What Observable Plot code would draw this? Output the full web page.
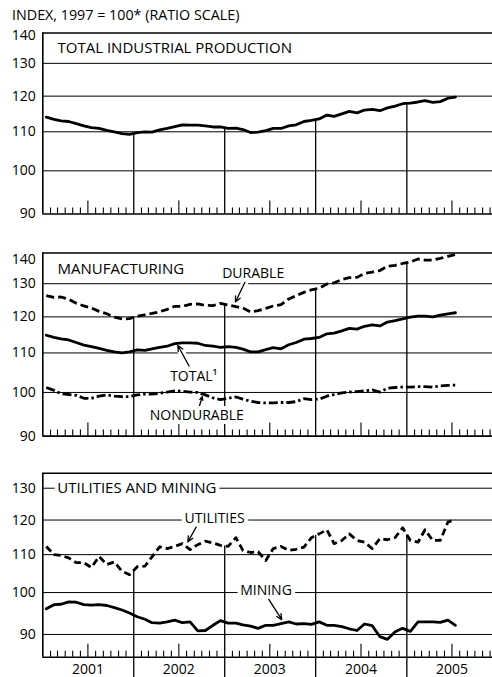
<!DOCTYPE html>
<html><head><meta charset="utf-8">
<script src="https://cdn.jsdelivr.net/npm/d3@7"></script>
<script src="https://cdn.jsdelivr.net/npm/@observablehq/plot@0.6"></script>
<style>
html,body{margin:0;padding:0;background:#fff;}
#wrap{position:relative;width:492px;height:677px;overflow:hidden;background:#fff;font-family:"Open Sans",sans-serif;}
#hdr{position:absolute;left:12px;top:7px;font-size:14.3px;line-height:16px;color:#000;white-space:nowrap;}
.panel{position:absolute;left:0;}
</style></head>
<body><div id="wrap"><div id="hdr">INDEX, 1997 = 100* (RATIO SCALE)</div></div>
<script>
// ---- data: monthly, Jan 2001 – Jul 2005 (index, 1997 = 100) ----
const totalIP = [114.0,113.4,113.0,112.8,112.2,111.6,111.1,110.9,110.4,110.0,109.5,109.3,
  109.8,110.0,109.9,110.5,110.9,111.4,111.9,111.8,111.8,111.6,111.3,111.3,
  110.9,111.0,110.6,109.8,109.9,110.3,110.9,110.9,111.6,111.9,112.8,113.1,
  113.5,114.6,114.2,114.9,115.6,115.2,116.0,116.2,115.8,116.6,117.1,117.8,
  118.0,118.3,118.7,118.2,118.4,119.4,119.7];
const mfgTotal = [114.8,114.2,113.8,113.5,112.8,112.1,111.7,111.2,110.7,110.3,110.0,110.3,
  110.8,110.7,111.1,111.5,111.8,112.5,112.7,112.7,112.6,112.0,111.8,111.5,
  111.7,111.5,111.0,110.3,110.3,110.9,111.4,111.1,112.2,112.8,113.7,113.9,
  114.2,115.2,115.4,116.0,116.7,116.5,117.3,117.7,117.4,118.5,118.9,119.4,
  119.9,120.2,120.2,120.0,120.5,120.9,121.2];
const durable = [126.3,125.8,125.9,125.2,124.0,123.2,122.6,121.6,120.9,119.9,119.4,119.5,
  120.2,120.6,121.0,121.5,122.2,123.1,123.1,123.7,123.8,123.4,123.3,124.0,
  123.5,123.0,122.6,121.4,121.8,122.5,123.2,123.6,125.3,126.3,127.3,128.1,
  128.6,129.9,130.3,131.3,131.9,132.0,133.3,133.7,134.2,135.6,135.9,136.5,
  137.0,138.0,137.6,137.6,138.2,138.9,139.5];
const nondurable = [101.2,100.5,99.7,99.5,99.3,98.6,98.6,99.1,99.4,99.1,99.0,99.0,
  99.4,99.6,99.6,99.8,100.1,100.4,100.3,100.1,100.0,99.4,98.7,98.3,
  98.6,98.9,98.4,97.9,97.6,97.5,97.5,97.6,97.6,97.8,98.5,98.3,
  98.4,99.1,99.5,99.9,100.1,100.2,100.4,100.6,100.1,101.0,101.2,101.3,
  101.3,101.4,101.4,101.3,101.6,101.7,101.8];
const utilities = [112.3,110.0,109.8,109.1,107.8,107.8,106.5,109.5,107.3,108.0,105.5,104.6,
  106.7,106.9,109.4,112.2,111.7,112.3,113.1,111.4,112.8,113.8,113.3,112.6,
  112.3,114.8,111.2,110.6,110.8,108.4,111.7,112.3,111.2,111.5,112.1,114.8,
  115.9,117.1,113.1,114.0,115.9,114.0,113.5,111.7,114.5,114.2,114.8,117.7,
  114.0,113.5,117.1,114.0,114.0,119.4,120.1];
const mining = [96.0,97.0,97.1,97.7,97.6,97.0,96.9,97.0,96.8,96.3,95.7,95.0,
  94.1,93.5,92.7,92.6,92.9,93.3,92.7,92.9,90.8,90.9,92.1,93.2,
  92.6,92.6,92.2,91.9,91.4,92.1,92.1,92.5,92.9,92.4,92.5,92.3,
  92.9,92.1,92.1,91.8,91.3,90.9,92.4,92.0,89.5,88.9,90.6,91.4,
  90.7,92.9,92.9,92.9,92.8,93.3,92.1];
const yTicksA = [90, 100, 110, 120, 130, 140];
const yTicksB = [90, 100, 110, 120, 130];
const yearLabels = ["2001", "2002", "2003", "2004", "2005"];

// ---- helpers ----
const X0 = new Date(Date.UTC(2001, 0, 1)), X1 = new Date(Date.UTC(2006, 0, 1));
const dates = d3.utcMonth.range(X0, new Date(Date.UTC(2005, 7, 1))).map(d => d3.utcDay.offset(d, 14));
const rows = vals => vals.map((v, i) => ({date: dates[i], value: v}));
const allMonths = d3.utcMonth.range(new Date(Date.UTC(2001, 1, 1)), X1);
const minorTicks = allMonths.filter(d => d.getUTCMonth() !== 0 && d.getUTCMonth() !== 6);
const julyTicks = allMonths.filter(d => d.getUTCMonth() === 6);
const yearStarts = allMonths.filter(d => d.getUTCMonth() === 0);
function valueAt(vals, t) {
  const i = d3.bisector(d => d).left(dates, t);
  if (i <= 0) return vals[0];
  if (i >= vals.length) return vals[vals.length - 1];
  const f = (t - dates[i - 1]) / (dates[i] - dates[i - 1]);
  return vals[i - 1] + f * (vals[i] - vals[i - 1]);
}
const D = (y, m, d) => new Date(Date.UTC(y, m - 1, d));
const FONT = "'Open Sans', sans-serif";

function panel(o) {
  const innerH = o.height - o.mt - o.mb;
  const yr = yearStarts.map(t => ({date: t, top: valueAt(o.ruleTop, t), bottom: o.domain[0]}));
  const marks = [
    Plot.ruleY(o.grid, {stroke: "#000", strokeWidth: 1}),
    Plot.ruleY(o.domain, {stroke: "#000", strokeWidth: 1.6}),
    Plot.ruleX([X0], {stroke: "#000", strokeWidth: 1.6}),
    Plot.ruleX(minorTicks, {stroke: "#000", strokeWidth: 1.1, insetTop: innerH - 6}),
    Plot.ruleX(julyTicks, {stroke: "#000", strokeWidth: 1.1, insetTop: innerH - 13}),
    Plot.ruleX(yr, {x: "date", y1: "top", y2: "bottom", stroke: "#000", strokeWidth: 1.3, insetBottom: o.extend ? -(o.mb + 2) : 0}),
    Plot.arrow(o.arrows || [], {x1: "x1", y1: "y1", x2: "x2", y2: "y2", stroke: "#fff", strokeWidth: 7, headLength: 0}),
    ...o.lines.map(s => Plot.line(rows(s.values), {x: "date", y: "value", stroke: "#000", strokeWidth: 2.8,
      strokeDasharray: s.dash, strokeLinejoin: "round", strokeLinecap: s.dash ? "butt" : "round"})),
    Plot.arrow(o.arrows || [], {x1: "x1", y1: "y1", x2: "x2", y2: "y2", stroke: "#000", strokeWidth: 1.3, headLength: 7, headAngle: 50}),
    ...(o.notes || []).map(n => Plot.text([n], {x: "x", y: "y", text: "t", textAnchor: n.anchor || "start",
      fontSize: n.size || 14, fill: "#000", stroke: "#fff", strokeWidth: 8})),
    Plot.text(o.labels.slice(0, -1), {y: d => d, frameAnchor: "left", dx: -7, textAnchor: "end", fontSize: 14, fill: "#000"}),
    Plot.text(o.labels.slice(-1), {y: d => d, frameAnchor: "left", dx: -7, dy: o.topDy || 0, textAnchor: "end", fontSize: 14, fill: "#000"})
  ];
  if (o.years) marks.push(Plot.text(yearLabels, {x: d => D(+d, 7, 1), y: () => o.domain[0], dy: 12, text: d => d, fontSize: 14, fill: "#000"}));
  const svg = Plot.plot({
    width: 498, height: o.height, marginLeft: 42.3, marginRight: 0.7, marginTop: o.mt, marginBottom: o.mb,
    x: {type: "utc", domain: [X0, X1], axis: null},
    y: {type: "log", domain: o.domain, axis: null},
    style: {fontFamily: FONT, color: "#000", background: "transparent", maxWidth: "none", overflow: "visible"},
    marks
  });
  svg.classList.add("panel");
  svg.style.top = o.top + "px";
  document.getElementById("wrap").appendChild(svg);
}

panel({top: 20, height: 200, mt: 12.5, mb: 6.5, domain: [90, 140], grid: [100, 110, 120, 130],
  labels: yTicksA, topDy: 3, ruleTop: totalIP,
  lines: [{values: totalIP}],
  notes: [{t: "TOTAL INDUSTRIAL PRODUCTION", x: D(2001, 3, 1), y: 135, size: 15}]});

panel({top: 240, height: 202, mt: 12.5, mb: 6.4, domain: [90, 140], grid: [100, 110, 120, 130],
  labels: yTicksA, topDy: 7, ruleTop: durable,
  lines: [{values: durable, dash: "8,4"}, {values: mfgTotal}, {values: nondurable, dash: "9,3,2.5,3"}],
  arrows: [
    {x1: D(2003, 3, 31), y1: 131.7, x2: D(2003, 2, 13), y2: 124.4},
    {x1: D(2002, 8, 11), y1: 106.6, x2: D(2002, 6, 27), y2: 112.0},
    {x1: D(2002, 9, 20), y1: 96.5, x2: D(2002, 10, 3), y2: 99.0}
  ],
  notes: [
    {t: "MANUFACTURING", x: D(2001, 3, 1), y: 134.5, size: 15},
    {t: "DURABLE", x: D(2002, 12, 22), y: 133.3},
    {t: "TOTAL\u00B9", x: D(2002, 5, 27), y: 103.9},
    {t: "NONDURABLE", x: D(2002, 9, 11), y: 94.6, anchor: "middle"}
  ]});

panel({top: 460, height: 217, mt: 12.7, mb: 20.3, domain: [85, 135], grid: [90, 100, 110, 120, 130],
  labels: yTicksB, topDy: 0, ruleTop: utilities, extend: true, years: true,
  lines: [{values: utilities, dash: "7,4"}, {values: mining}],
  arrows: [
    {x1: D(2002, 9, 18), y1: 119.1, x2: D(2002, 8, 6), y2: 113.6},
    {x1: D(2003, 6, 25), y1: 98.5, x2: D(2003, 8, 18), y2: 93.4}
  ],
  notes: [
    {t: "UTILITIES AND MINING", x: D(2001, 2, 28), y: 130, size: 15},
    {t: "UTILITIES", x: D(2002, 7, 24), y: 120.6},
    {t: "MINING", x: D(2003, 3, 4), y: 100.4}
  ]});
</script></body></html>
